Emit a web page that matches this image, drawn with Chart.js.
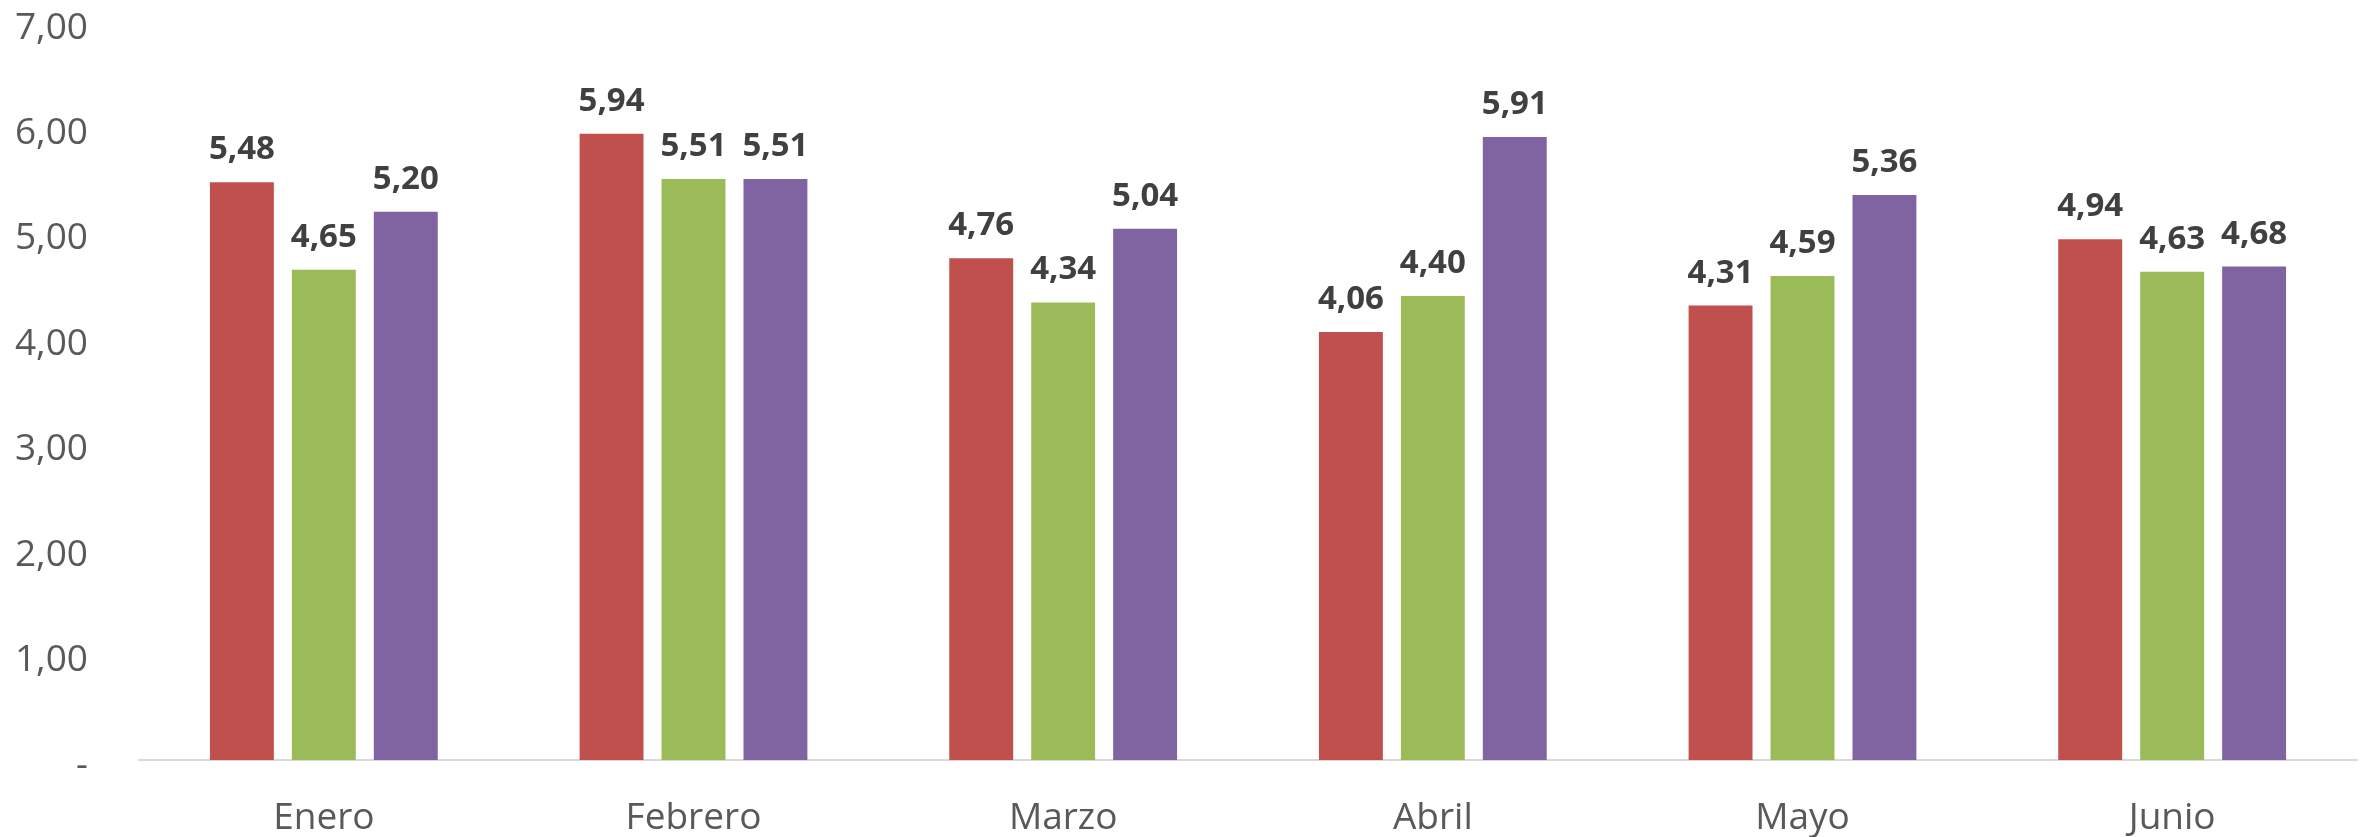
<!DOCTYPE html>
<html>
<head>
<meta charset="utf-8">
<script src="https://cdn.jsdelivr.net/npm/chart.js@4"></script>
<style>
html,body{margin:0;padding:0;background:#fff;overflow:hidden;}
#c{display:block;}
</style>
</head>
<body>
<canvas id="c" width="2364" height="837"></canvas>
<script>
const categories = ["Enero", "Febrero", "Marzo", "Abril", "Mayo", "Junio"];
const serie1 = [5.48, 5.94, 4.76, 4.06, 4.31, 4.94];
const serie2 = [4.65, 5.51, 4.34, 4.40, 4.59, 4.63];
const serie3 = [5.20, 5.51, 5.04, 5.91, 5.36, 4.68];
const yTicks = [0, 1, 2, 3, 4, 5, 6, 7];

const fmt = v => v === 0 ? "-" : v.toFixed(2).replace(".", ",");

const labelPlugin = {
  id: "barLabels",
  afterDatasetsDraw(chart) {
    const ctx = chart.ctx;
    ctx.save();
    ctx.font = "bold 33px 'Open Sans'";
    ctx.fillStyle = "#404040";
    ctx.textAlign = "center";
    ctx.textBaseline = "alphabetic";
    chart.data.datasets.forEach((ds, i) => {
      const meta = chart.getDatasetMeta(i);
      meta.data.forEach((bar, j) => {
        ctx.fillText(fmt(ds.data[j]), bar.x, bar.y - 23);
      });
    });
    ctx.restore();
  }
};

new Chart(document.getElementById("c"), {
  type: "bar",
  data: {
    labels: categories,
    datasets: [
      { label: "Serie 1", data: serie1, backgroundColor: "#C0504D" },
      { label: "Serie 2", data: serie2, backgroundColor: "#9BBB59" },
      { label: "Serie 3", data: serie3, backgroundColor: "#8064A2" }
    ]
  },
  options: {
    responsive: false,
    devicePixelRatio: 1,
    animation: false,
    layout: { padding: { top: 22, right: 7, left: 0, bottom: 0 } },
    datasets: { bar: { categoryPercentage: 0.665, barPercentage: 0.78 } },
    plugins: { legend: { display: false }, tooltip: { enabled: false } },
    scales: {
      x: {
        grid: { display: false, drawTicks: false },
        border: { display: true, color: "#D9D9D9", width: 2 },
        ticks: { color: "#595959", font: { family: "'Open Sans'", size: 37 }, padding: 36 },
        afterFit(s) { s.height = 77; s.paddingLeft = 0; s.paddingRight = 0; }
      },
      y: {
        min: 0, max: 7,
        afterBuildTicks(s) { s.ticks = yTicks.map(v => ({ value: v })); },
        grid: { display: false, drawTicks: false },
        border: { display: false },
        ticks: { color: "#595959", font: { family: "'Open Sans'", size: 37 }, padding: 51, labelOffset: 6, callback: v => fmt(v) },
        afterFit(s) { s.width = 139; s.paddingTop = 0; s.paddingBottom = 0; }
      }
    }
  },
  plugins: [labelPlugin]
});
</script>
</body>
</html>
